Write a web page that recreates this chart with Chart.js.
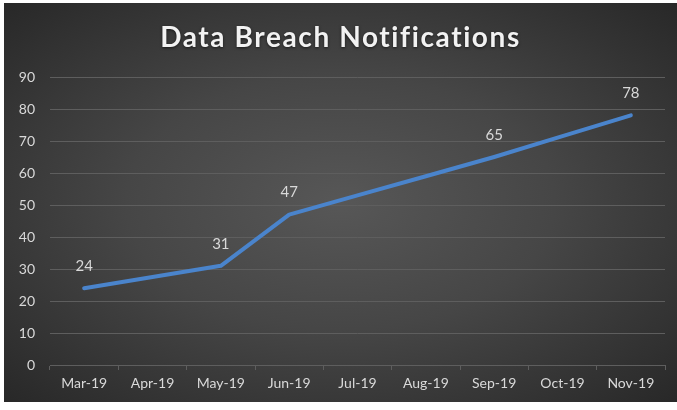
<!DOCTYPE html>
<html>
<head>
<meta charset="utf-8">
<script src="https://cdn.jsdelivr.net/npm/chart.js@4"></script>
<style>
  html, body { margin: 0; padding: 0; background: #ffffff; }
  #frame {
    position: absolute; left: 4px; top: 3px; width: 673px; height: 399px;
    background: radial-gradient(ellipse at 50% 50%, #575757 0%, #464646 45%, #282828 100%);
  }
</style>
</head>
<body>
<div id="frame"><canvas id="breachChart" width="673" height="399"></canvas></div>
<script>
// Chart data
const chartTitle = 'Data Breach Notifications';
const months = ['Mar-19', 'Apr-19', 'May-19', 'Jun-19', 'Jul-19', 'Aug-19', 'Sep-19', 'Oct-19', 'Nov-19'];
const notifications = [24, 27.5, 31, 47, 53, 59, 65, 71.5, 78];
const labelledPoints = [0, 2, 3, 6, 8];
const yTicks = [0, 10, 20, 30, 40, 50, 60, 70, 80, 90];

// Title with a little letter spacing and a soft shadow, like the original
const spacedTitle = {
    id: 'spacedTitle',
    afterDraw(chart) {
        const ctx = chart.ctx;
        ctx.save();
        ctx.font = 'bold 28px Lato';
        ctx.letterSpacing = '1.6px';
        ctx.fillStyle = '#f2f2f2';
        ctx.textAlign = 'center';
        ctx.textBaseline = 'alphabetic';
        ctx.shadowColor = 'rgba(0,0,0,0.6)';
        ctx.shadowBlur = 3;
        ctx.shadowOffsetY = 1;
        ctx.fillText(chartTitle, chart.width / 2, 44);
        ctx.restore();
    }
};

// Draws the value above selected points
const pointLabels = {
    id: 'pointLabels',
    afterDatasetsDraw(chart) {
        const ctx = chart.ctx;
        const meta = chart.getDatasetMeta(0);
        ctx.save();
        ctx.font = '15px Lato';
        ctx.fillStyle = '#d9d9d9';
        ctx.textAlign = 'center';
        ctx.textBaseline = 'middle';
        labelledPoints.forEach(i => {
            const pt = meta.data[i];
            ctx.fillText(String(notifications[i]), pt.x, pt.y - 22);
        });
        ctx.restore();
    }
};

document.addEventListener('DOMContentLoaded', function() {
    const ctx = document.getElementById('breachChart');
    new Chart(ctx, {
        type: 'line',
        data: {
            labels: months,
            datasets: [{
                label: 'Notifications',
                data: notifications,
                borderColor: '#4a84cc',
                borderWidth: 4,
                borderCapStyle: 'round',
                borderJoinStyle: 'round',
                tension: 0,
                pointRadius: 0,
                fill: false
            }]
        },
        options: {
            responsive: false,
            animation: false,
            layout: { padding: { left: 0, right: 12, top: 74, bottom: 0 } },
            plugins: {
                legend: { display: false },
                tooltip: { enabled: false },
                title: { display: false }
            },
            scales: {
                x: {
                    offset: true,
                    grid: {
                        offset: true,
                        drawOnChartArea: false,
                        drawTicks: true,
                        tickLength: 5,
                        color: '#5e5e5e'
                    },
                    border: { color: '#5e5e5e', width: 1 },
                    ticks: {
                        color: '#d9d9d9',
                        font: { family: 'Lato', size: 14 },
                        padding: 5,
                        maxRotation: 0
                    },
                    afterFit: function(scale) { scale.height = 37; }
                },
                y: {
                    min: 0,
                    max: 90,
                    afterBuildTicks: function(scale) {
                        scale.ticks = yTicks.map(v => ({ value: v }));
                    },
                    grid: { color: '#5e5e5e', drawTicks: false },
                    border: { display: false },
                    ticks: {
                        color: '#d9d9d9',
                        font: { family: 'Lato', size: 14 },
                        padding: 15
                    },
                    afterFit: function(scale) { scale.width = 46; }
                }
            }
        },
        plugins: [pointLabels, spacedTitle]
    });
});
</script>
</body>
</html>
